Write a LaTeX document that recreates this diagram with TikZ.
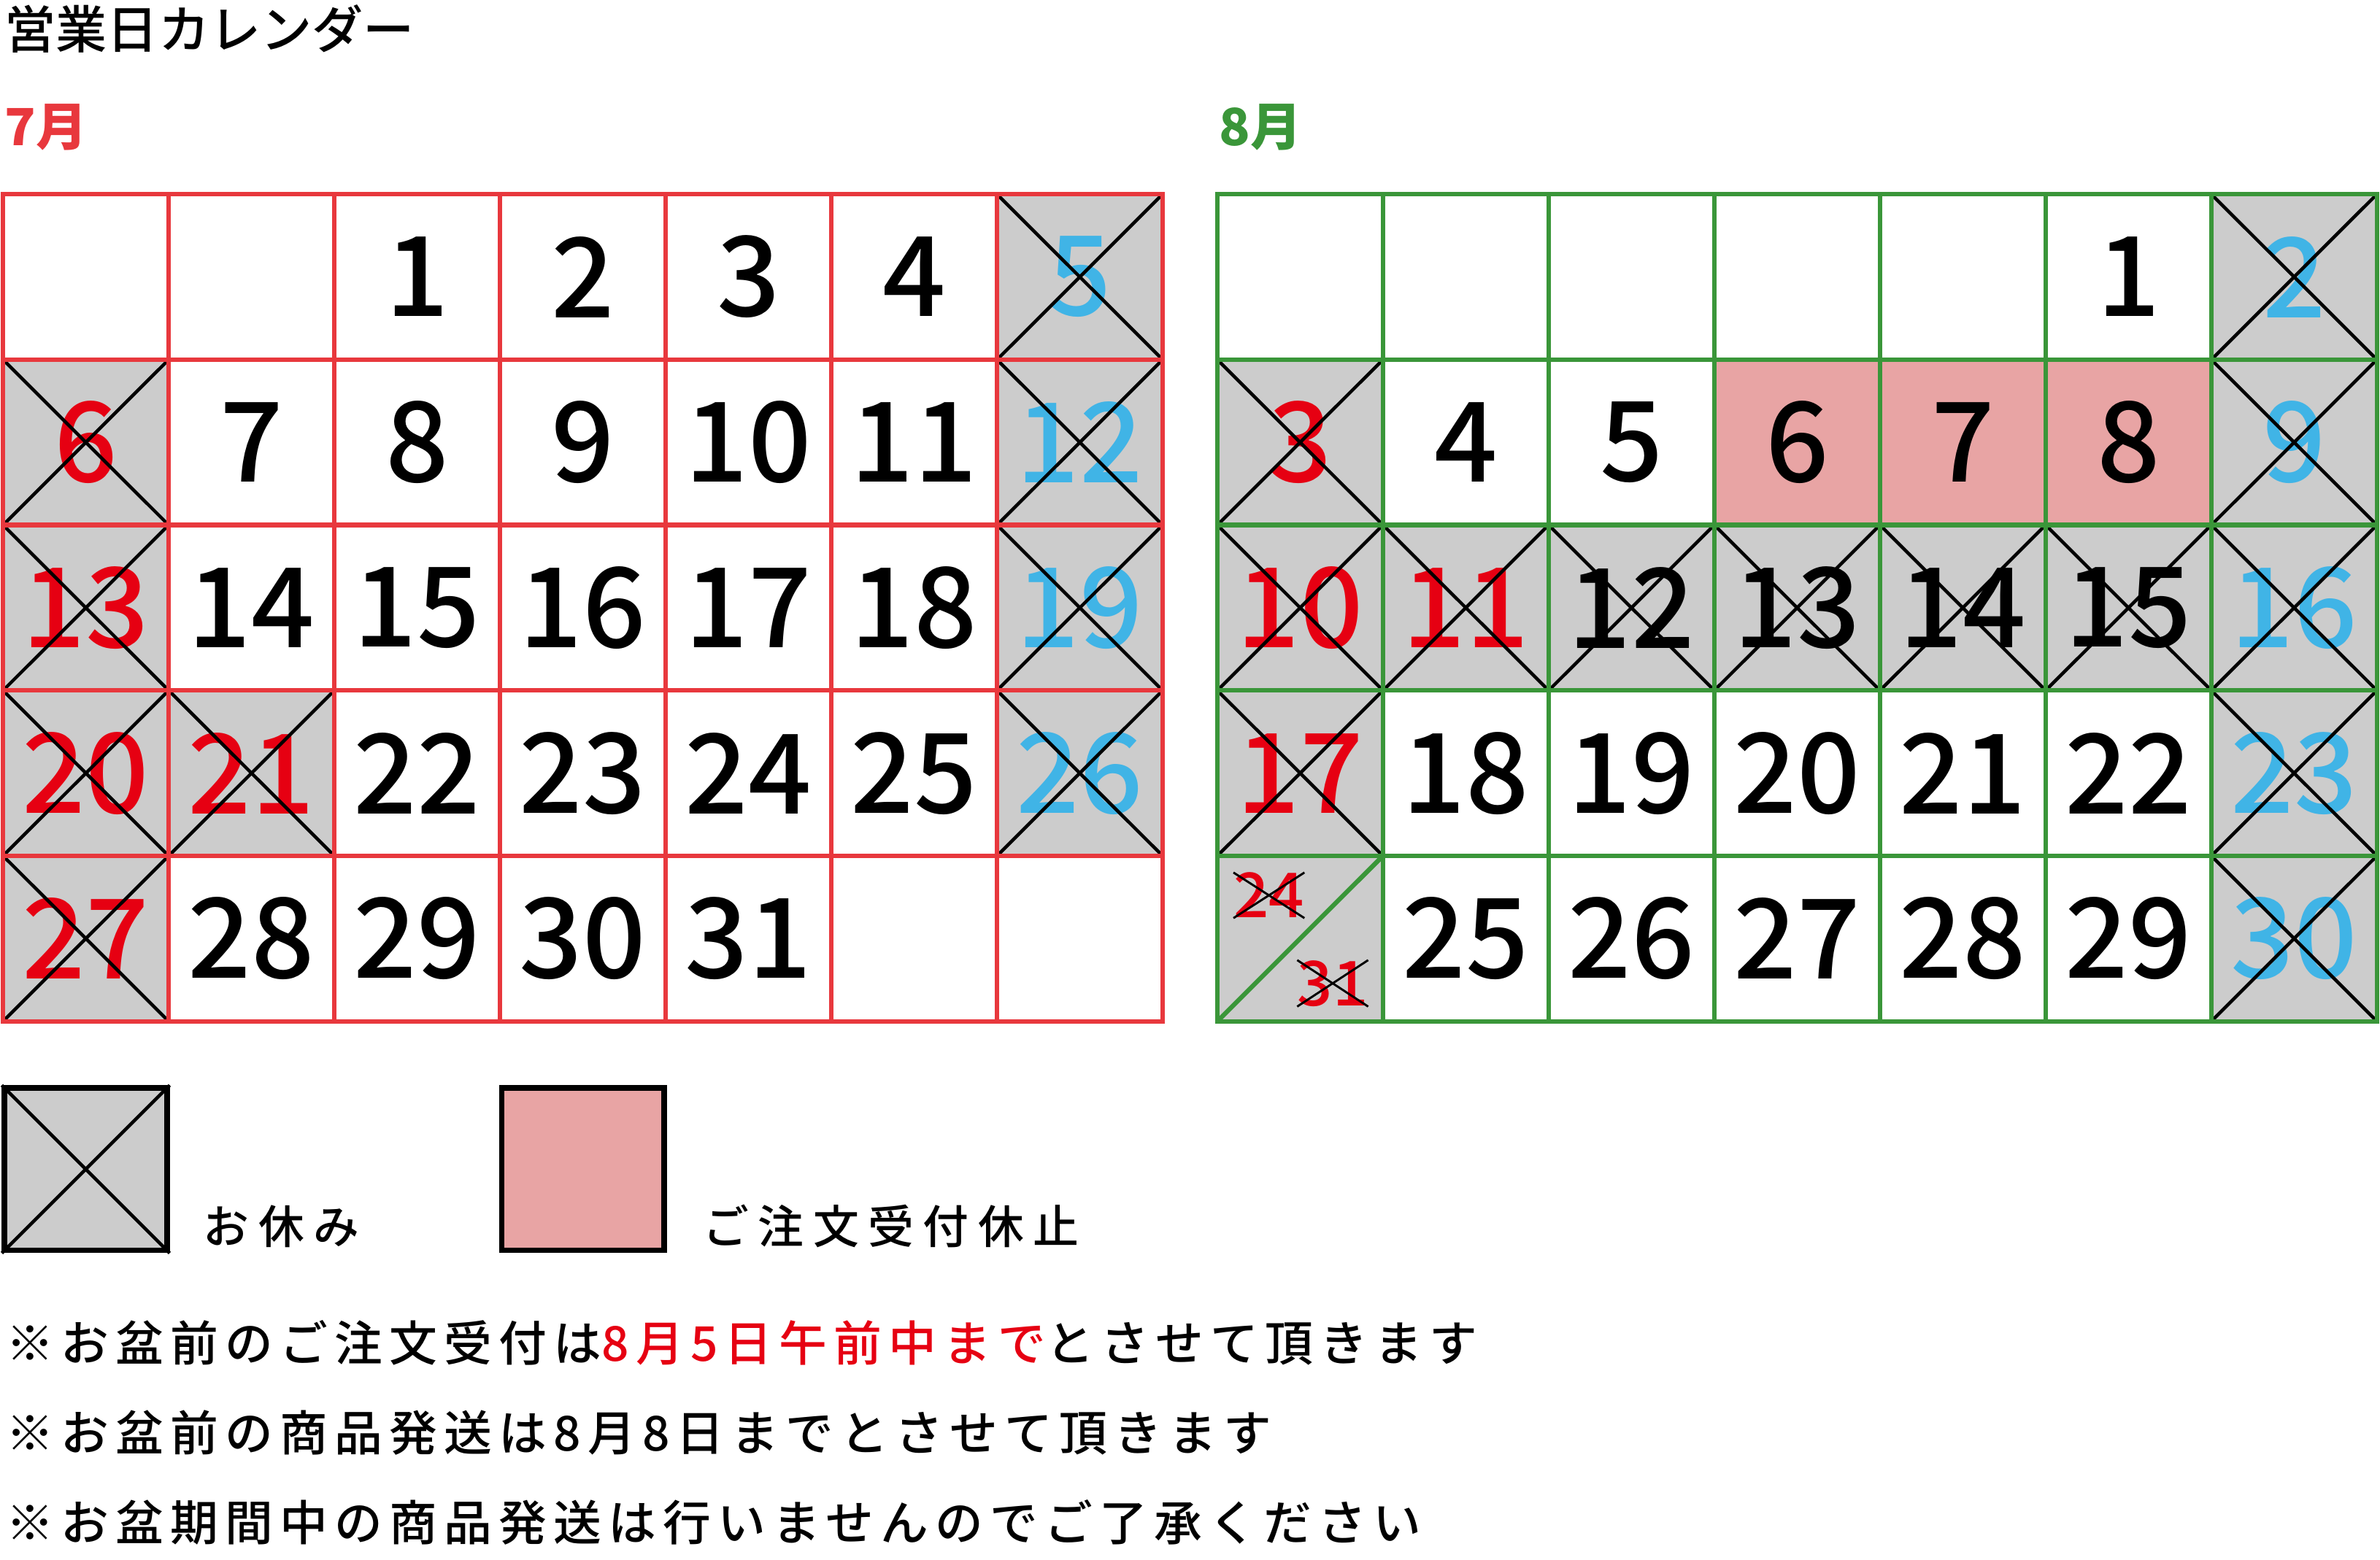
\documentclass[tikz,border=0pt]{standalone}
\usepackage{fontspec}
\setmainfont{Noto Sans CJK JP}
\newfontfamily\medfont{Noto Sans CJK JP Medium}
\newfontfamily\notefont[LetterSpace=14]{Noto Sans CJK JP Medium}
\newfontfamily\legfont[LetterSpace=20]{Noto Sans CJK JP Medium}
\definecolor{jred}{HTML}{E8383D}
\definecolor{hred}{HTML}{E60012}
\definecolor{agreen}{HTML}{3A9639}
\definecolor{sblue}{HTML}{40B4E6}
\definecolor{cgrey}{HTML}{CCCCCC}
\definecolor{cpink}{HTML}{E8A4A4}
\begin{document}
\begin{tikzpicture}[x=0.5mm,y=-0.5mm,
  cellbox/.style={minimum width=54.55mm,minimum height=54.5mm,inner sep=0pt,font=\medfont\fontsize{104}{110}\selectfont},
  wd/.style={text=black},
  ho/.style={fill=cgrey,text=hred},
  su/.style={fill=cgrey,text=sblue},
  gb/.style={fill=cgrey,text=black},
  pk/.style={fill=cpink,text=black},
  xline/.style={line width=1.1mm,black},
  txt/.style={anchor=west,inner sep=0pt,font=\notefont\fontsize{45}{50}\selectfont}]
\useasboundingbox (0,0) rectangle (1568,1028);
\node[txt,font=\medfont\fontsize{48}{50}\selectfont] (title) at (3,19) {営業日カレンダー};
\node[txt,font=\fontsize{48}{50}\bfseries\selectfont,text=jred] (m7) at (3,84) {7月};
\node[txt,font=\fontsize{48}{50}\bfseries\selectfont,text=agreen] (m8) at (803,84) {8月};
% July
\foreach \c/\r/\s/\t/\x in {2/0/wd/1/0,3/0/wd/2/0,4/0/wd/3/0,5/0/wd/4/0,6/0/su/5/1,
 0/1/ho/6/1,1/1/wd/7/0,2/1/wd/8/0,3/1/wd/9/0,4/1/wd/10/0,5/1/wd/11/0,6/1/su/12/1,
 0/2/ho/13/1,1/2/wd/14/0,2/2/wd/15/0,3/2/wd/16/0,4/2/wd/17/0,5/2/wd/18/0,6/2/su/19/1,
 0/3/ho/20/1,1/3/ho/21/1,2/3/wd/22/0,3/3/wd/23/0,4/3/wd/24/0,5/3/wd/25/0,6/3/su/26/1,
 0/4/ho/27/1,1/4/wd/28/0,2/4/wd/29/0,3/4/wd/30/0,4/4/wd/31/0}{
  \node[cellbox,\s] (j\t) at ({2+109.14*(\c+0.5)},{128+109*(\r+0.5)}) {\raisebox{-0.06em}{\t}};
  \ifnum\x=1 \draw[xline] (j\t.north west)--(j\t.south east) (j\t.north east)--(j\t.south west);\fi
}
% August
\foreach \c/\r/\s/\t/\x in {5/0/wd/1/0,6/0/su/2/1,
 0/1/ho/3/1,1/1/wd/4/0,2/1/wd/5/0,3/1/pk/6/0,4/1/pk/7/0,5/1/pk/8/0,6/1/su/9/1,
 0/2/ho/10/1,1/2/ho/11/1,2/2/gb/12/1,3/2/gb/13/1,4/2/gb/14/1,5/2/gb/15/1,6/2/su/16/1,
 0/3/ho/17/1,1/3/wd/18/0,2/3/wd/19/0,3/3/wd/20/0,4/3/wd/21/0,5/3/wd/22/0,6/3/su/23/1,
 1/4/wd/25/0,2/4/wd/26/0,3/4/wd/27/0,4/4/wd/28/0,5/4/wd/29/0,6/4/su/30/1}{
  \node[cellbox,\s] (a\t) at ({802+109.14*(\c+0.5)},{128+109*(\r+0.5)}) {\raisebox{-0.06em}{\t}};
  \ifnum\x=1 \draw[xline] (a\t.north west)--(a\t.south east) (a\t.north east)--(a\t.south west);\fi
}
% 24/31 cell
\node[cellbox,fill=cgrey] (a24) at ({802+109.14*0.5},{128+109*4.5}) {};
\draw[agreen,line width=1.5mm] (a24.south west)--(a24.north east);
\node[inner sep=0pt,text=hred,font=\medfont\fontsize{58}{60}\selectfont] (t24) at (836,590) {24};
\node[inner sep=0pt,text=hred,font=\medfont\fontsize{58}{60}\selectfont] (t31) at (878,648) {31};
\draw[line width=0.7mm] (t24.north west)--(t24.south east) (t24.north east)--(t24.south west);
\draw[line width=0.7mm] (t31.north west)--(t31.south east) (t31.north east)--(t31.south west);
% grids
\draw[jred,line width=1.5mm] (2,128) rectangle (766,673);
\foreach \i in {1,...,6} \draw[jred,line width=1.5mm] ({2+109.14*\i},128)--({2+109.14*\i},673);
\foreach \i in {1,...,4} \draw[jred,line width=1.5mm] (2,{128+109*\i})--(766,{128+109*\i});
\draw[agreen,line width=1.5mm] (802,128) rectangle (1566,673);
\foreach \i in {1,...,6} \draw[agreen,line width=1.5mm] ({802+109.14*\i},128)--({802+109.14*\i},673);
\foreach \i in {1,...,4} \draw[agreen,line width=1.5mm] (802,{128+109*\i})--(1566,{128+109*\i});
% legend
\node[minimum width=53.5mm,minimum height=53.5mm,inner sep=0pt,fill=cgrey,draw=black,line width=1.8mm] (lg) at (56.5,770.5) {};
\draw[xline] (lg.north west)--(lg.south east) (lg.north east)--(lg.south west);
\node[txt,font=\legfont\fontsize{43}{50}\selectfont] (lgt) at (134,808) {お休み};
\node[minimum width=53.5mm,minimum height=53.5mm,inner sep=0pt,fill=cpink,draw=black,line width=1.8mm] (lp) at (384,770.5) {};
\node[txt,font=\legfont\fontsize{43}{50}\selectfont] (lpt) at (463,808) {ご注文受付休止};
% notes
\node[txt] (n1) at (4,885) {※お盆前のご注文受付は\textcolor{hred}{8月5日午前中まで}とさせて頂きます};
\node[txt] (n2) at (4,944) {※お盆前の商品発送は8月8日までとさせて頂きます};
\node[txt] (n3) at (4,1003) {※お盆期間中の商品発送は行いませんのでご了承ください};
\end{tikzpicture}
\end{document}
